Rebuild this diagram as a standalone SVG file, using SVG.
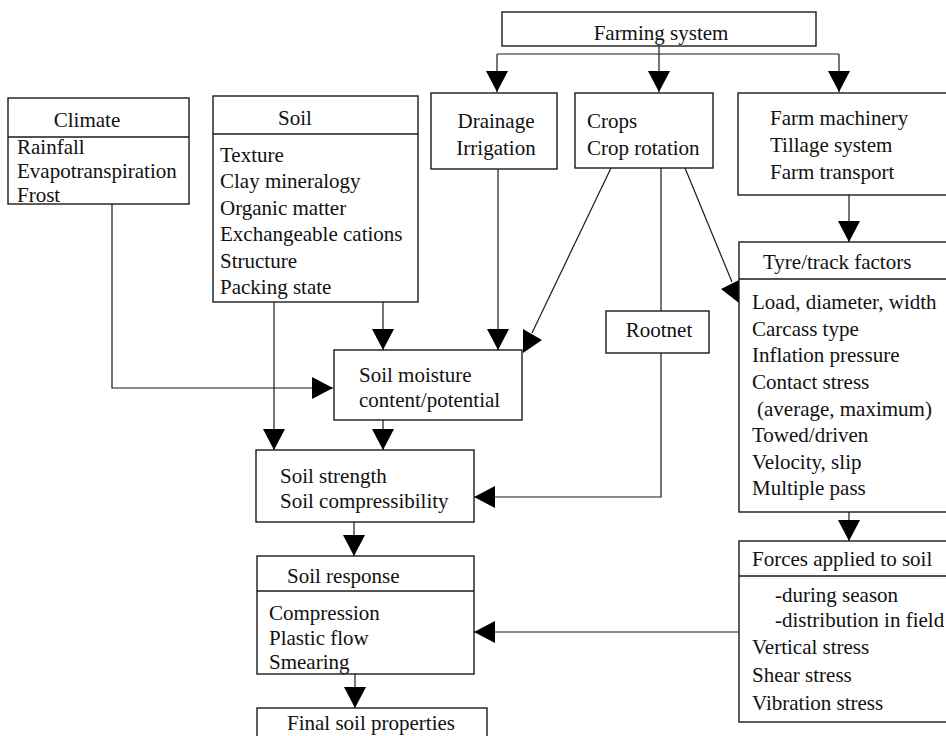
<svg xmlns="http://www.w3.org/2000/svg" width="946" height="736" viewBox="0 0 946 736">
<defs>
<style>
.box{fill:#fff;stroke:#1a1a1a;stroke-width:1.4}
.div{stroke:#1a1a1a;stroke-width:1.3}
.ln{fill:none;stroke:#1a1a1a;stroke-width:1.2}
.ah{fill:#000}
text{font-family:"Liberation Serif","Times New Roman",serif;font-size:21px;fill:#111}
.c{text-anchor:middle}
</style>
<marker id="arr" viewBox="0 0 21 22" refX="21" refY="11" markerWidth="21" markerHeight="22" markerUnits="userSpaceOnUse" orient="auto">
<path d="M0,0 L21,11 L0,22 Z" fill="#000"/>
</marker>
</defs>
<rect width="946" height="736" fill="#fff"/>

<g id="connectors">
<path class="ln" d="M659,46 V54"/>
<path class="ln" d="M497,54 H839"/>
<path class="ln" d="M497,54 V92" marker-end="url(#arr)"/>
<path class="ln" d="M659,54 V92" marker-end="url(#arr)"/>
<path class="ln" d="M839,54 V92" marker-end="url(#arr)"/>
<path class="ln" d="M112,204 V388 H333" marker-end="url(#arr)"/>
<path class="ln" d="M274,302 V450" marker-end="url(#arr)"/>
<path class="ln" d="M383,302 V350" marker-end="url(#arr)"/>
<path class="ln" d="M498,169 V350" marker-end="url(#arr)"/>
<path class="ln" d="M611,168 L532,333"/>
<polygon class="ah" points="523,329 523,353 542,340"/>
<path class="ln" d="M661,168 V311"/>
<path class="ln" d="M661,353 V497 H474" marker-end="url(#arr)"/>
<path class="ln" d="M685,168 L732,282"/>
<polygon class="ah" points="739,280 739,303 721,289"/>
<path class="ln" d="M849,195 V242" marker-end="url(#arr)"/>
<path class="ln" d="M383,420 V450" marker-end="url(#arr)"/>
<path class="ln" d="M849,512 V541" marker-end="url(#arr)"/>
<path class="ln" d="M354,522 V556" marker-end="url(#arr)"/>
<path class="ln" d="M739,632 H474" marker-end="url(#arr)"/>
<path class="ln" d="M355,674 V708" marker-end="url(#arr)"/>
</g>

<g id="farming-system">
<rect class="box" x="502" y="12" width="314" height="34"/>
<text class="c" x="661" y="40">Farming system</text>
</g>

<g id="climate">
<rect class="box" x="8" y="98" width="181" height="106"/>
<line class="div" x1="8" y1="137" x2="189" y2="137"/>
<text class="c" x="87" y="127">Climate</text>
<text x="17" y="154">Rainfall</text>
<text x="17" y="178">Evapotranspiration</text>
<text x="17" y="202">Frost</text>
</g>

<g id="soil">
<rect class="box" x="213" y="96" width="205" height="206"/>
<line class="div" x1="213" y1="134" x2="418" y2="134"/>
<text class="c" x="295" y="125">Soil</text>
<text x="220" y="162">Texture</text>
<text x="220" y="188">Clay mineralogy</text>
<text x="220" y="215">Organic matter</text>
<text x="220" y="241">Exchangeable cations</text>
<text x="220" y="268">Structure</text>
<text x="220" y="294">Packing state</text>
</g>

<g id="drainage">
<rect class="box" x="431" y="93" width="126" height="76"/>
<text class="c" x="496" y="128">Drainage</text>
<text class="c" x="496" y="155">Irrigation</text>
</g>

<g id="crops">
<rect class="box" x="575" y="93" width="138" height="75"/>
<text x="587" y="128">Crops</text>
<text x="587" y="155">Crop rotation</text>
</g>

<g id="farm-machinery">
<rect class="box" x="738" y="93" width="220" height="102"/>
<text x="770" y="125">Farm machinery</text>
<text x="770" y="152">Tillage system</text>
<text x="770" y="179">Farm transport</text>
</g>

<g id="tyre-track">
<rect class="box" x="739" y="242" width="220" height="270"/>
<line class="div" x1="739" y1="279" x2="959" y2="279"/>
<text x="763" y="269">Tyre/track factors</text>
<text x="752" y="309">Load, diameter, width</text>
<text x="752" y="336">Carcass type</text>
<text x="752" y="362">Inflation pressure</text>
<text x="752" y="389">Contact stress</text>
<text x="757" y="416">(average, maximum)</text>
<text x="752" y="442">Towed/driven</text>
<text x="752" y="469">Velocity, slip</text>
<text x="752" y="495">Multiple pass</text>
</g>

<g id="rootnet">
<rect class="box" x="606" y="311" width="103" height="42"/>
<text class="c" x="659" y="337">Rootnet</text>
</g>

<g id="soil-moisture">
<rect class="box" x="334" y="350" width="188" height="70"/>
<text x="359" y="382">Soil moisture</text>
<text x="359" y="407">content/potential</text>
</g>

<g id="soil-strength">
<rect class="box" x="256" y="450" width="218" height="72"/>
<text x="280" y="483">Soil strength</text>
<text x="280" y="508">Soil compressibility</text>
</g>

<g id="soil-response">
<rect class="box" x="257" y="556" width="217" height="118"/>
<line class="div" x1="257" y1="591" x2="474" y2="591"/>
<text x="287" y="583">Soil response</text>
<text x="269" y="620">Compression</text>
<text x="269" y="645">Plastic flow</text>
<text x="269" y="669">Smearing</text>
</g>

<g id="forces">
<rect class="box" x="739" y="541" width="220" height="181"/>
<line class="div" x1="739" y1="576" x2="959" y2="576"/>
<text x="752" y="566">Forces applied to soil</text>
<text x="775" y="602">-during season</text>
<text x="775" y="627">-distribution in field</text>
<text x="752" y="654">Vertical stress</text>
<text x="752" y="682">Shear stress</text>
<text x="752" y="710">Vibration stress</text>
</g>

<g id="final-soil-properties">
<rect class="box" x="257" y="708" width="230" height="40"/>
<text class="c" x="371" y="730">Final soil properties</text>
</g>
</svg>
